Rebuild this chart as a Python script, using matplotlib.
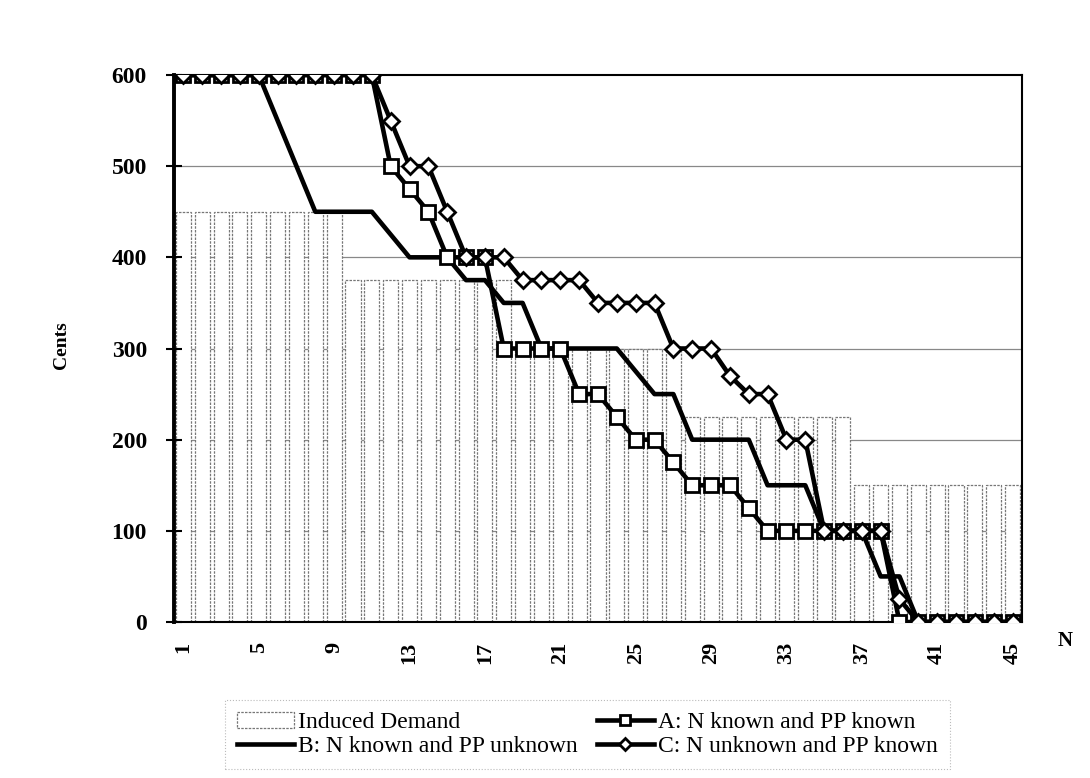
import matplotlib
matplotlib.use("Agg")
import matplotlib.pyplot as plt
import numpy as np

N = list(range(1, 46))
demand = [450]*9 + [375]*9 + [300]*9 + [225]*9 + [150]*9
series_a = [600]*11 + [500, 475, 450, 400, 400, 400, 300, 300, 300, 300, 250, 250, 225,
                       200, 200, 175, 150, 150, 150, 125, 100, 100, 100, 100, 100, 100, 100,
                       0, 0, 0, 0, 0, 0, 0]
series_b = [600]*5 + [550, 500, 450, 450, 450, 450, 425, 400, 400, 400, 375, 375, 350, 350,
                      300, 300, 300, 300, 300, 275, 250, 250, 200, 200, 200, 200, 150, 150,
                      150, 100, 100, 100, 50, 50, 0, 0, 0, 0, 0, 0]
series_c = [600]*11 + [550, 500, 500, 450, 400, 400, 400, 375, 375, 375, 375, 350, 350,
                       350, 350, 300, 300, 300, 270, 250, 250, 200, 200, 100, 100, 100, 100,
                       25, 0, 0, 0, 0, 0, 0]
xtick_labels = [1, 5, 9, 13, 17, 21, 25, 29, 33, 37, 41, 45]
yticks = [0, 100, 200, 300, 400, 500, 600]

serif = ["Liberation Serif", "DejaVu Serif"]
plt.rcParams['font.family'] = serif

fig = plt.figure(figsize=(10.9, 7.78), dpi=100)
ax = fig.add_axes([0.1596, 0.2005, 0.9376 - 0.1596, 0.9036 - 0.2005])

for y in yticks[1:-1]:
    ax.axhline(y, color='#888888', lw=0.9, zorder=0)

bars = ax.bar(N, demand, width=0.8, facecolor='white', edgecolor='#777777',
              linewidth=0.9, linestyle=(0, (2, 1)), zorder=1, label='Induced Demand')

lb, = ax.plot(N, series_b, color='black', lw=3.3, zorder=3,
              label='B: N known and PP unknown')
la, = ax.plot(N, series_a, color='black', lw=3.3, marker='s', markersize=10,
              markerfacecolor='white', markeredgecolor='black', markeredgewidth=2,
              zorder=4, label='A: N known and PP known')
lc, = ax.plot(N, series_c, color='black', lw=3.3, marker='D', markersize=8,
              markerfacecolor='white', markeredgecolor='black', markeredgewidth=2,
              zorder=5, label='C: N unknown and PP known')

ax.set_xlim(0.5, 45.5)
ax.set_ylim(0, 600)
ax.set_yticks(yticks)
ax.set_yticklabels([str(v) for v in yticks], fontsize=17, fontweight='bold')
ax.set_xticks(xtick_labels)
ax.set_xticklabels([str(v) for v in xtick_labels], fontsize=16, fontweight='bold',
                   rotation=90)
ax.tick_params(axis='y', direction='inout', length=11, width=1.5, pad=14)
ax.tick_params(axis='x', length=0, pad=14)

for s in ['top', 'right', 'bottom']:
    ax.spines[s].set_linewidth(1.5)
ax.spines['left'].set_linewidth(2.8)

ax.set_ylabel('Cents', fontsize=14, fontweight='bold')
ax.yaxis.set_label_coords(-0.1226, 0.506)
fig.text(1065/1090, 1 - 641/778, 'N', fontsize=15, fontweight='bold',
         ha='center', va='center')

leg = fig.legend([bars, lb, la, lc],
                 ['Induced Demand', 'B: N known and PP unknown',
                  'A: N known and PP known', 'C: N unknown and PP known'],
                 loc='center', bbox_to_anchor=(0.539, 0.056), ncol=2,
                 fontsize=17, handlelength=2.4, handletextpad=0.2,
                 columnspacing=0.8, labelspacing=0.1, frameon=True,
                 fancybox=False, borderpad=0.5, markerscale=0.75)
fr = leg.get_frame()
fr.set_edgecolor('#aaaaaa')
fr.set_linewidth(0.8)
fr.set_linestyle(':')

fig.savefig('out.png', dpi=100)
